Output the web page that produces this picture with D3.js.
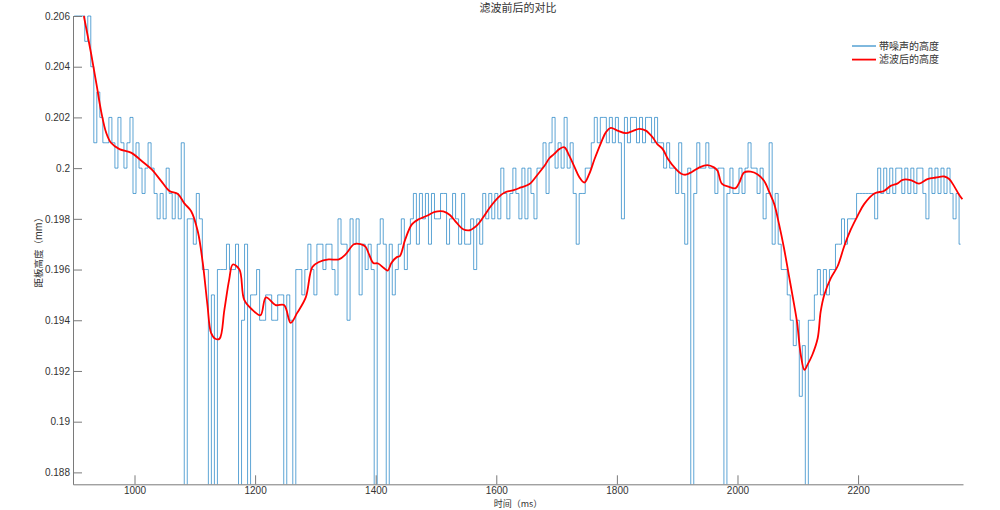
<!DOCTYPE html>
<html>
<head>
<meta charset="utf-8">
<script src="https://cdn.jsdelivr.net/npm/d3@7"></script>
<style>
	body { margin: 0; background: #fff; }
	svg { display: block; }
	.axis text { font-family: "Liberation Sans", Arial, sans-serif; font-size: 10px; fill: #333; }
	.axis path, .axis line { stroke: #7a7a7a; }
	.cjk { font-family: "Noto Sans CJK SC", sans-serif; fill: #333; }
</style>
</head>
<body>
<svg id="chart" width="1000" height="510"></svg>
<script>
// noisy height samples, in micrometres, one every 5 ms from 900 ms
// (the 180 values are the drop-outs that run off the bottom of the plot)
const sampleStart = 900;
const sampleStep = 5;
const noisyUm = [
	206,206,206,206,205,206,204,201,203,202,
	201,201,202,201,200,202,201,200,201,202,
	199,201,200,199,200,201,200,199,198,199,
	198,200,199,198,199,198,201,180,198,198,
	197,199,198,196,196,180,195,180,196,196,
	196,197,196,196,197,180,194,197,180,195,
	195,196,194,194,195,195,194,194,195,195,
	180,195,194,180,196,196,195,196,197,196,
	195,197,197,196,197,197,196,195,198,197,
	197,194,198,197,198,195,197,196,197,196,
	180,197,198,197,180,197,195,196,197,198,
	196,197,198,199,197,199,198,199,197,199,
	198,198,199,199,197,198,199,198,197,199,
	197,197,198,196,198,197,199,198,199,198,
	199,198,200,199,198,199,200,199,198,200,
	198,200,199,198,200,200,201,199,201,202,
	200,201,200,202,200,201,199,197,199,199,
	200,200,201,202,201,202,202,201,202,201,
	202,201,198,202,201,202,202,201,202,201,
	202,202,201,202,201,201,200,201,200,200,
	199,201,199,197,200,180,199,201,200,200,
	201,200,200,199,200,200,180,199,200,199,
	199,200,199,200,201,200,200,199,200,198,
	199,201,197,199,197,196,196,195,194,193,
	194,191,193,180,194,194,195,196,195,196,
	195,196,196,197,197,198,197,198,198,198,
	199,199,199,199,199,199,198,200,199,200,
	199,200,199,200,200,199,200,199,200,199,
	200,200,199,198,200,199,200,199,200,199,
	200,199,198,199,197
];

// filtered curve: time (ms) and height (um)
const filterTime = [
	916,928,937,945,953,961,975,995,1011,1028,1044,1058,1072,1083,1094,1105,1113,1121,1127,1134,
	1141,1149,1157,1163,1174,1182,1196,1209,1218,1234,1248,1259,1270,1284,1295,1306,1322,1339,1350,1364,
	1375,1383,1389,1396,1404,1413,1420,1426,1435,1440,1449,1460,1471,1484,1498,1512,1523,1534,1545,1556,
	1567,1578,1589,1603,1614,1630,1641,1655,1669,1680,1688,1696,1705,1713,1721,1730,1738,1746,1754,1763,
	1774,1782,1790,1801,1815,1826,1837,1848,1859,1867,1876,1885,1898,1906,1914,1925,1937,1950,1961,1967,
	1974,1986,1997,2003,2011,2022,2033,2044,2053,2061,2069,2077,2086,2094,2099,2105,2111,2116,2124,2133,
	2138,2144,2155,2166,2177,2188,2199,2210,2227,2243,2254,2265,2274,2287,2301,2315,2329,2343,2351,2359,
	2367,2373
];
const filterUm = [
	206.0,204.52,203.3,202.2,201.4,201.0,200.75,200.6,200.3,199.96,199.5,199.1,198.98,198.6,198.3,197.5,196.3,194.6,193.5,193.27,
	193.27,194.4,195.6,196.2,196.0,194.8,194.4,194.2,194.9,194.6,194.6,193.9,194.3,194.9,196.1,196.3,196.4,196.4,196.6,197.0,
	197.0,196.9,196.6,196.26,196.24,196.07,195.96,196.26,196.49,196.53,197.19,197.78,197.98,198.11,198.27,198.29,198.15,197.85,197.59,197.55,
	197.72,198.05,198.44,198.84,199.04,199.14,199.24,199.37,199.76,200.09,200.39,200.56,200.76,200.82,200.49,200.03,199.63,199.43,199.76,200.36,
	201.02,201.42,201.59,201.48,201.38,201.46,201.55,201.48,201.22,200.95,200.75,200.35,199.96,199.79,199.74,199.86,200.03,200.12,200.03,199.9,
	199.39,199.26,199.21,199.43,199.83,199.86,199.76,199.5,199.04,198.58,197.78,196.86,195.67,194.61,193.89,192.63,192.04,192.24,192.63,193.29,
	194.35,195.01,195.67,196.13,196.92,197.58,198.11,198.58,199.0,199.1,199.3,199.39,199.54,199.53,199.39,199.57,199.63,199.67,199.57,199.3,
	198.97,198.77
];

const xTicks = [1000,1200,1400,1600,1800,2000,2200];
const yTicks = [0.188,0.19,0.192,0.194,0.196,0.198,0.2,0.202,0.204,0.206];
const seriesNames = ["带噪声的高度","滤波后的高度"];
const seriesColors = ["#0072bd","#ff0000"];

const drawChart = (svg_name) => {
	let chart = d3.select(svg_name);
	let box = {left:73,right:963,top:16,bottom:484.3};

	let x = d3.scaleLinear().domain([898,2374]).range([box.left,box.right]);
	let y = d3.scaleLinear().domain([0.18753,0.206]).range([box.bottom,box.top]);

	let noisy = noisyUm.map((v,i) => ({t: sampleStart + i*sampleStep, h: v/1000}));
	let filtered = filterTime.map((t,i) => ({t: t, h: filterUm[i]/1000}));

	chart.append("clipPath").attr("id","plotClip")
		.append("rect")
			.attr("x",box.left).attr("y",0)
			.attr("width",box.right - box.left).attr("height",box.bottom);

	let plot = chart.append("g").attr("clip-path","url(#plotClip)");

	let noisyLine = d3.line().x(d => x(d.t)).y(d => y(d.h)).curve(d3.curveStep);
	plot.append("path")
		.datum(noisy)
		.attr("d",noisyLine)
		.attr("fill","none")
		.attr("stroke",seriesColors[0])
		.attr("stroke-opacity",0.85)
		.attr("stroke-width",0.75);

	let filterLine = d3.line().x(d => x(d.t)).y(d => y(d.h)).curve(d3.curveCatmullRom);
	plot.append("path")
		.datum(filtered)
		.attr("d",filterLine)
		.attr("fill","none")
		.attr("stroke",seriesColors[1])
		.attr("stroke-width",1.8);

	addXAxis(chart,x,box);
	addYAxis(chart,y,box);
	addLabels(chart,box);
	addLegend(chart);
}

const addXAxis = (chart,x,box) => {
	let x_axis = d3.axisBottom(x).tickValues(xTicks).tickSize(-9).tickSizeOuter(0).tickPadding(3)
		.tickFormat(d3.format("d"));
	chart.append("g")
		.attr("class","x axis")
		.attr("transform",`translate(0,${box.bottom})`)
		.call(x_axis);
}

const addYAxis = (chart,y,box) => {
	let y_axis = d3.axisLeft(y).tickValues(yTicks).tickSize(-9).tickSizeOuter(0).tickPadding(3)
		.tickFormat(d3.format("~g"));
	chart.append("g")
		.attr("class","y axis")
		.attr("transform",`translate(${box.left},0)`)
		.call(y_axis);
}

const addLabels = (chart,box) => {
	let midX = (box.left + box.right) / 2;
	chart.append("text")
		.attr("class","cjk")
		.attr("x",midX).attr("y",12)
		.style("text-anchor","middle")
		.style("font-size","11px")
		.text("滤波前后的对比");

	chart.append("text")
		.attr("class","cjk")
		.attr("x",midX).attr("y",507)
		.style("text-anchor","middle")
		.style("font-size","9px")
		.text("时间（ms）");

	chart.append("text")
		.attr("class","cjk")
		.attr("transform",`translate(42,${(box.top + box.bottom) / 2}) rotate(-90)`)
		.style("text-anchor","middle")
		.style("font-size","9.5px")
		.text("距板高度（mm）");
}

const addLegend = (chart) => {
	let legend = chart.append("g").attr("transform","translate(852,46)");
	let rows = legend.selectAll("g")
		.data(seriesNames)
		.enter()
		.append("g")
			.attr("transform",(d,i) => `translate(0,${i*13.6})`);
	rows.append("line")
		.attr("x1",0).attr("x2",24).attr("y1",0).attr("y2",0)
		.attr("stroke",(d,i) => seriesColors[i])
		.attr("stroke-width",(d,i) => i == 0 ? 1 : 1.8);
	rows.append("text")
		.attr("class","cjk")
		.attr("x",27).attr("y",0)
		.attr("dy","0.35em")
		.style("font-size","10px")
		.text(d => d);
}

drawChart("#chart");
</script>
</body>
</html>
